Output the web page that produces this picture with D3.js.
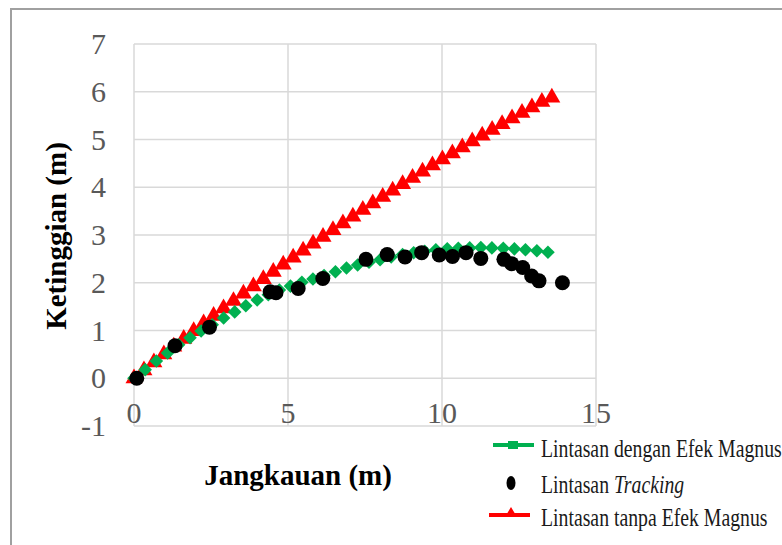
<!DOCTYPE html>
<html>
<head>
<meta charset="utf-8">
<script src="https://cdn.jsdelivr.net/npm/d3@7"></script>
<style>
  html, body { margin: 0; padding: 0; background: #fff; }
  svg { display: block; }
</style>
</head>
<body>
<svg id="chart" width="782" height="545"></svg>
<script>
// ---------- DATA ----------
const xTicks = [0, 5, 10, 15];
const yTicks = [-1, 0, 1, 2, 3, 4, 5, 6, 7];

// Lintasan tanpa Efek Magnus (red triangles)
const redX = [0, 0.323, 0.646, 0.969, 1.292, 1.615, 1.938, 2.261, 2.584, 2.907, 3.23, 3.553, 3.876, 4.199, 4.522, 4.845, 5.168, 5.491, 5.814, 6.137, 6.46, 6.783, 7.106, 7.429, 7.752, 8.075, 8.398, 8.721, 9.044, 9.367, 9.69, 10.013, 10.336, 10.659, 10.982, 11.305, 11.628, 11.951, 12.274, 12.597, 12.92, 13.243, 13.566];
const redY = [0, 0.168, 0.335, 0.5, 0.664, 0.826, 0.988, 1.148, 1.306, 1.463, 1.619, 1.774, 1.927, 2.079, 2.23, 2.379, 2.527, 2.673, 2.819, 2.962, 3.105, 3.246, 3.386, 3.525, 3.662, 3.798, 3.932, 4.066, 4.197, 4.328, 4.457, 4.585, 4.712, 4.837, 4.961, 5.083, 5.204, 5.324, 5.443, 5.56, 5.676, 5.79, 5.88];

// Lintasan dengan Efek Magnus (green diamonds)
const greenX = [0, 0.363, 0.726, 1.09, 1.45, 1.82, 2.18, 2.54, 2.91, 3.27, 3.63, 4.0, 4.36, 4.72, 5.08, 5.45, 5.81, 6.17, 6.54, 6.9, 7.26, 7.63, 7.99, 8.35, 8.72, 9.08, 9.44, 9.8, 10.17, 10.53, 10.9, 11.26, 11.62, 11.99, 12.35, 12.71, 13.08, 13.44];
const greenY = [0, 0.18, 0.36, 0.53, 0.7, 0.85, 0.99, 1.12, 1.26, 1.39, 1.52, 1.64, 1.75, 1.85, 1.93, 2.01, 2.08, 2.15, 2.23, 2.31, 2.37, 2.43, 2.48, 2.54, 2.59, 2.63, 2.66, 2.69, 2.71, 2.72, 2.73, 2.74, 2.73, 2.72, 2.71, 2.69, 2.67, 2.64];

// Lintasan Tracking (black circles)
const trackX = [0.09, 1.33, 2.45, 4.42, 4.61, 5.33, 6.13, 7.53, 8.22, 8.8, 9.34, 9.91, 10.34, 10.78, 11.26, 12.01, 12.26, 12.62, 12.91, 13.15, 13.91];
const trackY = [0.0, 0.68, 1.07, 1.81, 1.79, 1.88, 2.09, 2.49, 2.59, 2.54, 2.63, 2.58, 2.55, 2.63, 2.51, 2.49, 2.4, 2.32, 2.14, 2.04, 2.0];

const legendLabels = ["Lintasan dengan Efek Magnus", "Lintasan ", "Tracking", "Lintasan tanpa Efek Magnus"];
const xTitle = "Jangkauan (m)";
const yTitle = "Ketinggian (m)";

// ---------- CHART ----------
const svg = d3.select("#chart");
const serif = "'Liberation Serif', 'Times New Roman', serif";

const x = d3.scaleLinear().domain([0, 15]).range([134, 596]);
const y = d3.scaleLinear().domain([-1, 7]).range([426, 44]);

// outer border
svg.append("rect")
  .attr("x", 11).attr("y", 9).attr("width", 900).attr("height", 700)
  .attr("fill", "none").attr("stroke", "#a0a0a0").attr("stroke-width", 2);

// gridlines
const grid = svg.append("g");
grid.selectAll("line.h").data(yTicks).join("line")
  .attr("x1", x(0)).attr("x2", x(15))
  .attr("y1", d => y(d)).attr("y2", d => y(d))
  .attr("stroke", "#d9d9d9").attr("stroke-width", 1.5);
grid.selectAll("line.v").data(xTicks).join("line")
  .attr("x1", d => x(d)).attr("x2", d => x(d))
  .attr("y1", y(-1)).attr("y2", y(7))
  .attr("stroke", "#d9d9d9").attr("stroke-width", 1.5);

// tick labels
svg.append("g").selectAll("text").data(yTicks).join("text")
  .attr("x", 106).attr("y", d => y(d) + 10)
  .attr("text-anchor", "end")
  .attr("font-family", serif).attr("font-size", 30).attr("fill", "#595959")
  .text(d => d);
svg.append("g").selectAll("text").data(xTicks).join("text")
  .attr("x", d => x(d)).attr("y", 423)
  .attr("text-anchor", "middle")
  .attr("font-family", serif).attr("font-size", 30).attr("fill", "#595959")
  .text(d => d);

// axis titles
svg.append("text")
  .attr("x", 298).attr("y", 485)
  .attr("text-anchor", "middle")
  .attr("font-family", serif).attr("font-size", 29).attr("font-weight", "bold")
  .attr("fill", "#000").text(xTitle);
svg.append("text")
  .attr("transform", "translate(66,236) rotate(-90)")
  .attr("text-anchor", "middle")
  .attr("font-family", serif).attr("font-size", 29).attr("font-weight", "bold")
  .attr("fill", "#000").text(yTitle);

// markers
const tri = d3.symbol(d3.symbolTriangle, 125);
const sq = d3.symbol(d3.symbolSquare, 92);

const redData = redX.map((v, i) => [v, redY[i]]);
const greenData = greenX.map((v, i) => [v, greenY[i]]);
const trackData = trackX.map((v, i) => [v, trackY[i]]);

svg.append("g").selectAll("path").data(redData).join("path")
  .attr("d", tri)
  .attr("transform", d => `translate(${x(d[0])},${y(d[1])})`)
  .attr("fill", "#ff0000");

svg.append("g").selectAll("path").data(greenData).join("path")
  .attr("d", sq)
  .attr("transform", d => `translate(${x(d[0])},${y(d[1])}) rotate(45)`)
  .attr("fill", "#00b050");

svg.append("g").selectAll("circle").data(trackData).join("circle")
  .attr("cx", d => x(d[0])).attr("cy", d => y(d[1]))
  .attr("r", 7.5).attr("fill", "#000");

// legend
const lg = svg.append("g");
lg.append("line").attr("x1", 493).attr("x2", 534).attr("y1", 445).attr("y2", 445)
  .attr("stroke", "#00b050").attr("stroke-width", 4);
lg.append("rect").attr("x", 508).attr("y", 441).attr("width", 10).attr("height", 8).attr("fill", "#00b050");

lg.append("ellipse").attr("cx", 511).attr("cy", 483).attr("rx", 4.5).attr("ry", 7).attr("fill", "#000");

lg.append("line").attr("x1", 489).attr("x2", 530).attr("y1", 515).attr("y2", 515)
  .attr("stroke", "#ff0000").attr("stroke-width", 4);
lg.append("path").attr("d", "M511,507 L517,517 L505,517 Z").attr("fill", "#ff0000");

const baselines = [457, 492.5, 526];
lg.append("text").attr("transform", `translate(541,${baselines[0]}) scale(0.76,1)`)
  .attr("font-family", serif).attr("font-size", 26).attr("fill", "#1a1a1a").text(legendLabels[0]);
const lt2 = lg.append("text").attr("transform", `translate(541,${baselines[1]}) scale(0.76,1)`)
  .attr("font-family", serif).attr("font-size", 26).attr("fill", "#1a1a1a");
lt2.append("tspan").text(legendLabels[1]);
lt2.append("tspan").attr("font-style", "italic").text(legendLabels[2]);
lg.append("text").attr("transform", `translate(541,${baselines[2]}) scale(0.76,1)`)
  .attr("font-family", serif).attr("font-size", 26).attr("fill", "#1a1a1a").text(legendLabels[3]);
</script>
</body>
</html>
